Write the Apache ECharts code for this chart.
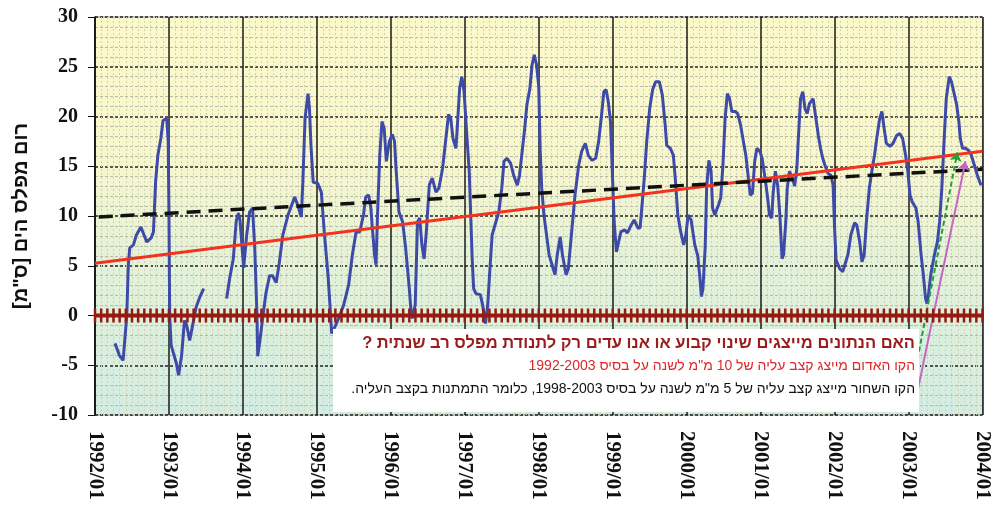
<!DOCTYPE html>
<html>
<head>
<meta charset="utf-8">
<script src="https://cdn.jsdelivr.net/npm/echarts@6/dist/echarts.min.js"></script>
<style>
  html, body { margin: 0; padding: 0; background: #fff; }
  #myChart { width: 993px; height: 508px; }
</style>
</head>
<body>
<div id="myChart"></div>
<script>
// tick labels on the time axis
const yearLabels = ['1992/01', '1993/01', '1994/01', '1995/01', '1996/01', '1997/01', '1998/01',
  '1999/01', '2000/01', '2001/01', '2002/01', '2003/01', '2004/01'];

// sea level (time in decimal years, value in cm); null = gap
const levelTime = [
  1992.27, 1992.33, 1992.38, 1992.43, 1992.45, 1992.47, 1992.52, 1992.56, 1992.62, 1992.70,
  1992.76, 1992.79, 1992.82, 1992.85, 1992.89, 1992.92, 1992.97, 1992.99, 1993.00, 1993.01,
  1993.03, 1993.10, 1993.13, 1993.17, 1993.21, 1993.24, 1993.28, 1993.30, 1993.37, 1993.42,
  1993.47, 1993.60,
  1993.78, 1993.82, 1993.87, 1993.91, 1993.94, 1993.96, 1994.01, 1994.05, 1994.09, 1994.13,
  1994.16, 1994.19, 1994.20, 1994.23, 1994.27, 1994.31, 1994.36, 1994.40, 1994.45, 1994.49,
  1994.54, 1994.61, 1994.70, 1994.74, 1994.79, 1994.81, 1994.84, 1994.88, 1994.90, 1994.92,
  1994.95, 1995.01, 1995.06, 1995.10, 1995.15, 1995.18, 1995.20, 1995.24, 1995.30, 1995.36,
  1995.43, 1995.48, 1995.53, 1995.58, 1995.63, 1995.66, 1995.70, 1995.73, 1995.75, 1995.78,
  1995.80, 1995.82, 1995.85, 1995.88, 1995.91, 1995.94, 1995.98, 1996.02, 1996.05, 1996.07,
  1996.11, 1996.16, 1996.20, 1996.25, 1996.27, 1996.29, 1996.33, 1996.36, 1996.39, 1996.42,
  1996.45, 1996.48, 1996.52, 1996.56, 1996.61, 1996.65, 1996.70, 1996.74, 1996.78, 1996.81,
  1996.84, 1996.88, 1996.90, 1996.93, 1996.96, 1996.99, 1997.01, 1997.03, 1997.06, 1997.08,
  1997.10, 1997.12, 1997.15, 1997.21, 1997.24, 1997.28, 1997.31, 1997.34, 1997.37, 1997.42,
  1997.46, 1997.50, 1997.53, 1997.57, 1997.62, 1997.66, 1997.71, 1997.74, 1997.77, 1997.81,
  1997.84, 1997.88, 1997.91, 1997.94, 1997.97, 1998.00, 1998.02, 1998.04, 1998.07, 1998.10,
  1998.14, 1998.18, 1998.22, 1998.25, 1998.29, 1998.32, 1998.37, 1998.40, 1998.45, 1998.49,
  1998.54, 1998.58, 1998.63, 1998.67, 1998.72, 1998.77, 1998.81, 1998.85, 1998.88, 1998.91,
  1998.94, 1998.97, 1999.00, 1999.02, 1999.05, 1999.08, 1999.11, 1999.16, 1999.20, 1999.25,
  1999.29, 1999.34, 1999.37, 1999.40, 1999.43, 1999.46, 1999.50, 1999.54, 1999.58, 1999.63,
  1999.67, 1999.71, 1999.73, 1999.78, 1999.82, 1999.85, 1999.88, 1999.92, 1999.96, 1999.99,
  2000.02, 2000.06, 2000.11, 2000.15, 2000.18, 2000.20, 2000.22, 2000.25, 2000.27, 2000.30,
  2000.33, 2000.35, 2000.38, 2000.43, 2000.46, 2000.49, 2000.52, 2000.55, 2000.58, 2000.61,
  2000.66, 2000.69, 2000.73, 2000.76, 2000.80, 2000.83, 2000.86, 2000.89, 2000.92, 2000.95,
  2000.99, 2001.02, 2001.06, 2001.09, 2001.12, 2001.15, 2001.17, 2001.20, 2001.23, 2001.26,
  2001.29, 2001.31, 2001.34, 2001.36, 2001.39, 2001.43, 2001.46, 2001.49, 2001.51, 2001.54,
  2001.57, 2001.60, 2001.63, 2001.66, 2001.71, 2001.74, 2001.78, 2001.81, 2001.84, 2001.87,
  2001.91, 2001.95, 2001.98, 2002.00, 2002.02, 2002.07, 2002.11, 2002.13, 2002.18, 2002.22,
  2002.27, 2002.30, 2002.34, 2002.37, 2002.40, 2002.43, 2002.47, 2002.51, 2002.54, 2002.57,
  2002.61, 2002.64, 2002.67, 2002.70, 2002.75, 2002.79, 2002.84, 2002.88, 2002.92, 2002.96,
  2002.99, 2003.02, 2003.05, 2003.10, 2003.13, 2003.17, 2003.20, 2003.23, 2003.25, 2003.27,
  2003.30, 2003.35, 2003.39, 2003.42, 2003.45, 2003.48, 2003.51, 2003.55, 2003.58, 2003.62,
  2003.65, 2003.68, 2003.70, 2003.73, 2003.77, 2003.81, 2003.85, 2003.89, 2003.93, 2003.98
];
const levelValue = [
  -2.8, -4.0, -4.5, 0.0, 5.0, 6.8, 7.1, 8.1, 8.9, 7.4,
  7.8, 8.4, 13.5, 16.1, 17.8, 19.6, 19.8, 17.5, 10.1, -0.1,
  -3.0, -4.8, -6.0, -4.1, -0.5, -1.0, -2.5, -2.3, 0.9, 1.9,
  2.7, null,
  1.7, 3.7, 5.7, 9.5, 10.3, 9.6, 4.8, 8.0, 10.4, 10.8,
  6.8, 0.0, -4.1, -2.5, -0.1, 2.2, 4.0, 4.0, 3.3, 5.2,
  8.1, 10.1, 11.9, 11.1, 9.9, 13.4, 19.8, 22.3, 20.8, 17.1,
  13.4, 13.3, 12.4, 8.4, 4.1, 0.7, -1.8, -1.2, -0.2, 1.0,
  3.1, 6.1, 8.4, 8.4, 10.1, 11.9, 12.1, 10.8, 8.8, 6.1,
  5.1, 10.1, 16.1, 19.5, 18.8, 15.5, 17.5, 18.2, 17.5, 14.8,
  10.4, 9.4, 6.8, 2.7, 0.7, -0.3, 1.1, 9.4, 9.8, 7.1,
  5.7, 8.4, 13.1, 13.8, 12.4, 12.8, 14.8, 17.5, 20.2, 19.8,
  17.8, 16.8, 19.1, 22.8, 24.0, 22.5, 20.2, 17.8, 14.5, 10.1,
  5.7, 2.7, 2.2, 2.1, 1.1, -0.8, 1.1, 4.7, 8.1, 9.4,
  10.4, 12.8, 15.5, 15.8, 15.3, 14.1, 13.1, 14.1, 16.1, 18.8,
  21.2, 22.8, 25.2, 26.2, 25.2, 23.0, 16.5, 12.8, 10.1, 8.4,
  6.1, 5.1, 4.1, 6.1, 7.9, 6.1, 4.1, 4.7, 8.8, 12.1,
  15.1, 16.5, 17.3, 16.1, 15.6, 15.8, 17.5, 20.2, 22.5, 22.7,
  21.5, 19.5, 13.4, 9.4, 6.4, 7.4, 8.4, 8.6, 8.3, 9.1,
  9.6, 8.8, 8.8, 11.4, 14.1, 17.5, 20.8, 22.7, 23.5, 23.5,
  22.2, 19.1, 17.1, 16.8, 16.1, 13.4, 10.1, 8.4, 7.1, 8.1,
  10.1, 9.6, 7.1, 6.0, 3.7, 1.9, 2.7, 6.8, 12.8, 15.6,
  14.5, 10.8, 10.1, 11.1, 11.8, 15.1, 19.8, 22.3, 21.8, 20.5,
  20.5, 20.3, 19.1, 17.8, 16.1, 14.1, 12.1, 12.3, 15.5, 16.8,
  16.5, 15.8, 13.8, 12.1, 10.1, 9.8, 12.4, 14.5, 13.1, 10.1,
  5.7, 6.1, 9.4, 12.8, 14.5, 13.8, 13.0, 14.8, 17.8, 21.8,
  22.5, 20.8, 20.3, 21.3, 21.8, 20.2, 18.1, 16.8, 15.8, 15.1,
  14.3, 14.1, 13.1, 8.8, 5.6, 4.7, 4.4, 4.2, 6.1, 8.1,
  9.3, 9.1, 7.4, 5.4, 6.1, 9.4, 12.8, 14.8, 16.1, 17.8,
  19.8, 20.5, 18.8, 17.3, 17.0, 17.3, 18.1, 18.3, 17.8, 16.1,
  14.5, 12.1, 11.4, 10.8, 9.4, 6.1, 4.1, 1.7, 1.2, 2.1,
  4.1, 6.1, 7.4, 9.4, 12.8, 17.5, 21.8, 24.0, 23.5, 22.2,
  21.2, 19.5, 17.8, 16.8, 16.8, 16.6, 16.1, 15.1, 14.1, 13.1
];

// trend lines: [start, end] as [year, cm]
const redTrend = [[1992.0, 5.25], [2004.0, 16.5]];     // 1992-2003 fit
const blackTrend = [[1992.05, 9.9], [2004.0, 14.7]];   // 1998-2003 fit

// arrows from the note box to the trend lines: [from, to] as [year, cm]
const greenArrow = [[2003.10, -5.2], [2003.66, 16.4]];
const purpleArrow = [[2003.13, -7.3], [2003.77, 15.5]];

const noteLines = [
  'האם הנתונים מייצגים שינוי קבוע או אנו עדים רק לתנודת מפלס רב שנתית ?',
  'הקו האדום מייצג קצב עליה של 10 מ"מ לשנה על בסיס 1992-2003',
  'הקו השחור מייצג קצב עליה של 5 מ"מ לשנה על בסיס 1998-2003, כלומר התמתנות בקצב העליה.'
];

const RLM = '\u200F';
const levelData = levelTime.map((t, i) => [t, levelValue[i]]);

// monthly hatch marks on the zero line
const zeroData = [];
for (let m = 0; m <= 144; m++) zeroData.push([1992 + m / 12, 0]);

let Chart = echarts.init(document.getElementById('myChart'));
Chart.setOption({
  animation: false,
  grid: {
    left: 95, right: 8, top: 17, bottom: 93,
    show: true,
    borderColor: '#8a8a8a',
    borderWidth: 1,
    backgroundColor: new echarts.graphic.LinearGradient(0, 0, 0, 1, [
      { offset: 0, color: '#fcfacb' },
      { offset: 0.35, color: '#f8f7cc' },
      { offset: 0.6, color: '#e4f2d8' },
      { offset: 1, color: '#d3ece2' }
    ])
  },
  xAxis: {
    type: 'value',
    min: 1992, max: 2004, interval: 1,
    axisLine: { show: true, lineStyle: { color: '#555', width: 1 } },
    axisTick: { show: true, inside: true, length: 5, lineStyle: { color: '#333' } },
    axisLabel: {
      rotate: -90,
      margin: 16,
      color: '#111',
      fontFamily: '"Liberation Serif", serif',
      fontWeight: 'bold',
      fontSize: 21,
      formatter: v => yearLabels[Math.round(v - 1992)]
    },
    splitLine: { show: true, lineStyle: { color: '#1a1a1a', width: 1.5 } },
    minorTick: { show: false, splitNumber: 12 },
    minorSplitLine: { show: true, lineStyle: { color: '#d2d1b4', width: 1, type: [2, 2] } }
  },
  yAxis: {
    type: 'value',
    min: -10, max: 30, interval: 5,
    name: RLM + 'רום מפלס הים [ס"מ]' + RLM,
    nameLocation: 'middle',
    nameGap: 64,
    nameTextStyle: {
      color: '#111',
      fontFamily: '"Liberation Sans", "DejaVu Sans", sans-serif',
      fontWeight: 'bold',
      fontSize: 20
    },
    axisLine: { show: true, lineStyle: { color: '#111', width: 1.5 } },
    axisTick: { show: true, length: 7, lineStyle: { color: '#111' } },
    axisLabel: {
      margin: 17,
      color: '#111',
      fontFamily: '"Liberation Serif", serif',
      fontWeight: 'bold',
      fontSize: 20
    },
    splitLine: { show: true, lineStyle: { color: '#222', width: 1.5, type: [3, 2] } },
    minorTick: { show: false, splitNumber: 5 },
    minorSplitLine: { show: true, lineStyle: { color: '#b9b9a8', width: 1, type: [3, 2] } }
  },
  series: [
    {
      name: 'level',
      type: 'line',
      data: levelData,
      showSymbol: false,
      connectNulls: false,
      lineStyle: { color: '#3d4aa8', width: 3 },
      z: 3
    },
    {
      name: 'red',
      type: 'line',
      data: redTrend,
      showSymbol: false,
      lineStyle: { color: '#f2331f', width: 3 },
      z: 4
    },
    {
      name: 'black',
      type: 'line',
      data: blackTrend,
      showSymbol: false,
      lineStyle: { color: '#111', width: 3.5, type: [14, 8] },
      z: 4
    },
    {
      name: 'zero',
      type: 'line',
      data: zeroData,
      symbol: 'rect',
      symbolSize: [2.5, 14],
      itemStyle: { color: '#951a10' },
      lineStyle: { color: '#951a10', width: 4 },
      z: 5
    },
    {
      name: 'arrows',
      type: 'line',
      data: [],
      z: 6,
      markLine: {
        silent: true,
        symbol: ['none', 'arrow'],
        symbolSize: 9,
        label: { show: false },
        data: [
          [
            { coord: greenArrow[0], lineStyle: { color: '#23a03a', width: 2, type: [5, 3] }, itemStyle: { color: '#23a03a' } },
            { coord: greenArrow[1] }
          ],
          [
            { coord: purpleArrow[0], lineStyle: { color: '#c665c6', width: 2, type: 'solid' }, itemStyle: { color: '#c665c6' } },
            { coord: purpleArrow[1] }
          ]
        ]
      }
    }
  ],
  graphic: [
    {
      type: 'rect',
      shape: { x: 333, y: 329, width: 586, height: 83 },
      style: { fill: '#ffffff' },
      z: 10
    },
    {
      type: 'text',
      x: 915, y: 343,
      style: {
        text: RLM + noteLines[0] + RLM,
        align: 'right', verticalAlign: 'middle',
        fill: '#9a1c1c',
        font: 'bold 16.5px "Liberation Sans", "DejaVu Sans", sans-serif'
      },
      z: 11
    },
    {
      type: 'text',
      x: 915, y: 366,
      style: {
        text: RLM + noteLines[1] + RLM,
        align: 'right', verticalAlign: 'middle',
        fill: '#e0262a',
        font: '14px "Liberation Sans", "DejaVu Sans", sans-serif'
      },
      z: 11
    },
    {
      type: 'text',
      x: 915, y: 389,
      style: {
        text: RLM + noteLines[2] + RLM,
        align: 'right', verticalAlign: 'middle',
        fill: '#111',
        font: '14px "Liberation Sans", "DejaVu Sans", sans-serif'
      },
      z: 11
    }
  ]
});
</script>
</body>
</html>
